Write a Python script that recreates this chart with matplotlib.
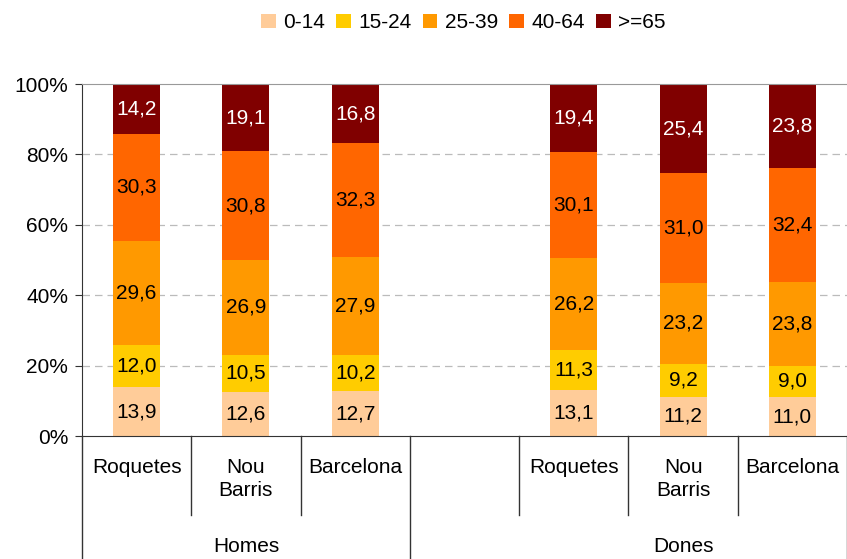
import matplotlib.pyplot as plt
import numpy as np

plt.rcParams['font.family'] = ['Liberation Sans', 'DejaVu Sans']

# dades
llocs = ['Roquetes', 'Nou\nBarris', 'Barcelona', '', 'Roquetes', 'Nou\nBarris', 'Barcelona']
grups = ['Homes', 'Dones']
edats = ['0-14', '15-24', '25-39', '40-64', '>=65']
colors = ['#FFCC99', '#FFCC00', '#FF9900', '#FF6600', '#800000']

v_0_14 = [13.9, 12.6, 12.7, None, 13.1, 11.2, 11.0]
v_15_24 = [12.0, 10.5, 10.2, None, 11.3, 9.2, 9.0]
v_25_39 = [29.6, 26.9, 27.9, None, 26.2, 23.2, 23.8]
v_40_64 = [30.3, 30.8, 32.3, None, 30.1, 31.0, 32.4]
v_65 = [14.2, 19.1, 16.8, None, 19.4, 25.4, 23.8]

series = [v_0_14, v_15_24, v_25_39, v_40_64, v_65]

fs = 15
fig = plt.figure(figsize=(8.47, 5.59), dpi=100)
ax = fig.add_axes([82/847, 1-436/559, 765/847, 352/559])

x = np.arange(len(llocs))
mask = np.array([v is not None for v in v_0_14])
xs = x[mask]
dades = np.array([[v for v in s if v is not None] for s in series], dtype=float)
totals = dades.sum(axis=0)
pct = dades / totals * 100

bottom = np.zeros(len(xs))
for i, (edat, col) in enumerate(zip(edats, colors)):
    ax.bar(xs, pct[i], bottom=bottom, width=0.43, color=col, label=edat, zorder=2)
    tc = 'white' if i == 4 else 'black'
    for xi, b, h, v in zip(xs, bottom, pct[i], dades[i]):
        ax.text(xi, b + h/2, f'{v:.1f}'.replace('.', ','), ha='center', va='center',
                fontsize=fs, color=tc, zorder=3)
    bottom += pct[i]

ax.set_xlim(-0.5, 6.5)
ax.set_ylim(0, 100)
ax.set_yticks(range(0, 101, 20))
ax.set_yticklabels([f'{t}%' for t in range(0, 101, 20)], fontsize=fs)
ax.set_xticks([])
for t in range(20, 100, 20):
    ax.axhline(t, color='#bbbbbb', lw=0.9, ls=(0, (6, 4)), zorder=1)
ax.spines['right'].set_visible(False)
ax.spines['top'].set_color('#999999')
ax.spines['left'].set_color('#333333')
ax.spines['bottom'].set_color('#333333')
ax.tick_params(axis='y', length=5, color='#333333', pad=5)

# eix de categories en dos nivells
tr = ax.get_xaxis_transform()
for xl in [0.5, 1.5, 3.5, 4.5, 5.5]:
    ax.plot([xl, xl], [0, -0.225], transform=tr, color='#333333', lw=1, clip_on=False)
for xl in [-0.5, 2.5, 6.5]:
    ax.plot([xl, xl], [0, -0.36], transform=tr, color='#333333', lw=1, clip_on=False)
for xi, nom in zip(x, llocs):
    ax.text(xi, -0.062, nom, transform=tr, ha='center', va='top', fontsize=fs,
            linespacing=1.3)
ax.text(1, -0.314, grups[0], transform=tr, ha='center', va='center', fontsize=fs)
ax.text(5, -0.314, grups[1], transform=tr, ha='center', va='center', fontsize=fs)

fig.legend(loc='upper center', bbox_to_anchor=(0.547, 1.01), ncol=5, frameon=False,
           fontsize=fs, handlelength=0.7, handleheight=0.7, handletextpad=0.35,
           columnspacing=0.55)

fig.savefig('out.png', dpi=100)
